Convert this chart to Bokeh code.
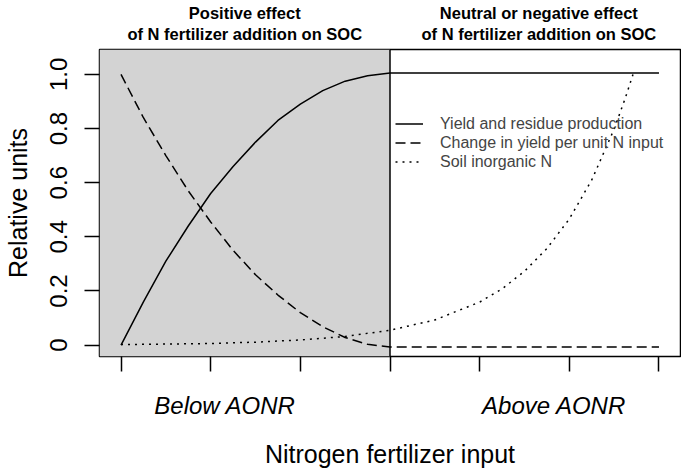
from bokeh.plotting import figure
from bokeh.models import (Range1d, FixedTicker, BoxAnnotation, Span, LinearAxis,
                          Legend, LegendItem)
from bokeh.embed import file_html
from bokeh.resources import INLINE

# ---- data ----
x_yield = [0, 0.25, 0.5, 0.75, 1.0, 1.25, 1.5, 1.75, 2.0, 2.25, 2.5, 2.75, 3.0, 6.0]
yield_vals = [0, 0.16, 0.31, 0.44, 0.56, 0.66, 0.75, 0.83, 0.89, 0.94, 0.975, 0.995, 1.005, 1.005]

x_change = [0, 0.25, 0.5, 0.75, 1.0, 1.25, 1.5, 1.75, 2.0, 2.25, 2.5, 2.75, 3.0, 6.0]
change_vals = [1.0, 0.84, 0.70, 0.57, 0.455, 0.35, 0.26, 0.185, 0.12, 0.068, 0.028, 0.003, -0.007, -0.007]

x_soil = [0, 0.5, 1.0, 1.5, 2.0, 2.5, 3.0, 3.5, 4.0, 4.25, 4.5, 4.75, 5.0, 5.25, 5.5, 5.625, 5.71]
soil_vals = [0.002, 0.004, 0.006, 0.011, 0.019, 0.032, 0.055, 0.093, 0.159, 0.208, 0.273,
             0.357, 0.466, 0.61, 0.798, 0.913, 1.0]

series_names = ["Yield and residue production", "Change in yield per unit N input", "Soil inorganic N"]

aonr = 3.0                       # boundary of shaded region
x_ticks = [0, 1, 2, 3, 4, 5, 6]
y_ticks = [0, 0.2, 0.4, 0.6, 0.8, 1.0]
y_tick_labels = ["0", "0.2", "0.4", "0.6", "0.8", "1.0"]

title_x = [1.38, 4.66]
title_line1 = ["Positive effect", "Neutral or negative effect"]
title_line2 = ["of N fertilizer addition on SOC", "of N fertilizer addition on SOC"]
label_x = [1.16, 4.83]
region_labels = ["Below AONR", "Above AONR"]
x_title = "Nitrogen fertilizer input"
y_title = "Relative units"

FONT = "Liberation Sans"

p = figure(width=681, height=470, output_backend="svg", toolbar_location=None,
           x_range=Range1d(-0.24, 6.24), y_range=Range1d(-0.042, 1.092),
           min_border_left=99, min_border_right=1, min_border_top=48, min_border_bottom=108)
p.background_fill_color = "white"
p.border_fill_color = "white"
p.grid.visible = False
p.outline_line_color = "black"
p.outline_line_width = 1.5

# shaded region and divider
p.add_layout(BoxAnnotation(right=aonr, fill_color="#d3d3d3", fill_alpha=1.0,
                           line_color=None, level="underlay"))
p.add_layout(Span(location=aonr, dimension="height", line_color="black", line_width=1.5))

r1 = p.line(x_yield, yield_vals, line_color="black", line_width=1.5)
r2 = p.line(x_change, change_vals, line_color="black", line_width=1.5, line_dash="10 5")
r3 = p.line(x_soil, soil_vals, line_color="black", line_width=1.5, line_dash="2 5")


def style_axis(ax, tick_out):
    ax.major_tick_out = tick_out
    ax.major_tick_in = 0
    ax.minor_tick_out = 0
    ax.minor_tick_in = 0
    ax.major_tick_line_width = 1.5
    ax.major_tick_line_color = "black" if tick_out else None
    ax.axis_line_color = None
    ax.major_label_text_color = "black"
    ax.major_label_text_font = FONT
    ax.axis_label_text_color = "black"
    ax.axis_label_text_font = FONT
    ax.axis_label_text_font_style = "normal"


# bottom axis: ticks only
xa = p.xaxis[0]
style_axis(xa, 15)
xa.ticker = FixedTicker(ticks=x_ticks)
xa.major_label_overrides = {t: "" for t in x_ticks}
xa.major_label_text_font_size = "1px"
xa.major_label_standoff = 0

# second bottom axis: region labels + axis title
xb = LinearAxis(ticker=FixedTicker(ticks=label_x),
                major_label_overrides=dict(zip(label_x, region_labels)))
style_axis(xb, 0)
xb.major_label_text_font_size = "24px"
xb.major_label_text_font_style = "italic"
xb.major_label_standoff = 20
xb.axis_label = x_title
xb.axis_label_text_font_size = "25px"
xb.axis_label_standoff = 18
p.add_layout(xb, "below")

# left axis
ya = p.yaxis[0]
style_axis(ya, 15)
ya.ticker = FixedTicker(ticks=y_ticks)
ya.major_label_overrides = dict(zip(y_ticks, y_tick_labels))
ya.major_label_orientation = "vertical"
ya.major_label_text_font_size = "24px"
ya.major_label_standoff = 17
ya.axis_label = y_title
ya.axis_label_text_font_size = "25px"
ya.axis_label_standoff = 16

# top axes: region titles (line 2 nearest the frame)
ta = LinearAxis(ticker=FixedTicker(ticks=title_x),
                major_label_overrides=dict(zip(title_x, title_line2)))
style_axis(ta, 0)
ta.major_label_text_font_size = "16.5px"
ta.major_label_text_font_style = "bold"
ta.major_label_standoff = 7
p.add_layout(ta, "above")

tb = LinearAxis(ticker=FixedTicker(ticks=title_x),
                major_label_overrides=dict(zip(title_x, title_line1)))
style_axis(tb, 0)
tb.major_label_text_font_size = "16.5px"
tb.major_label_text_font_style = "bold"
tb.major_label_standoff = 0
p.add_layout(tb, "above")

# legend
legend = Legend(items=[LegendItem(label=series_names[0], renderers=[r1]),
                       LegendItem(label=series_names[1], renderers=[r2]),
                       LegendItem(label=series_names[2], renderers=[r3])],
                location=(296, 185), orientation="vertical",
                padding=0, margin=0, spacing=0, glyph_width=28, glyph_height=19,
                label_height=19, label_standoff=17,
                label_text_font=FONT, label_text_font_size="16px",
                border_line_color=None, background_fill_alpha=0)
p.add_layout(legend)

open("out.html", "w").write(file_html(p, INLINE))
